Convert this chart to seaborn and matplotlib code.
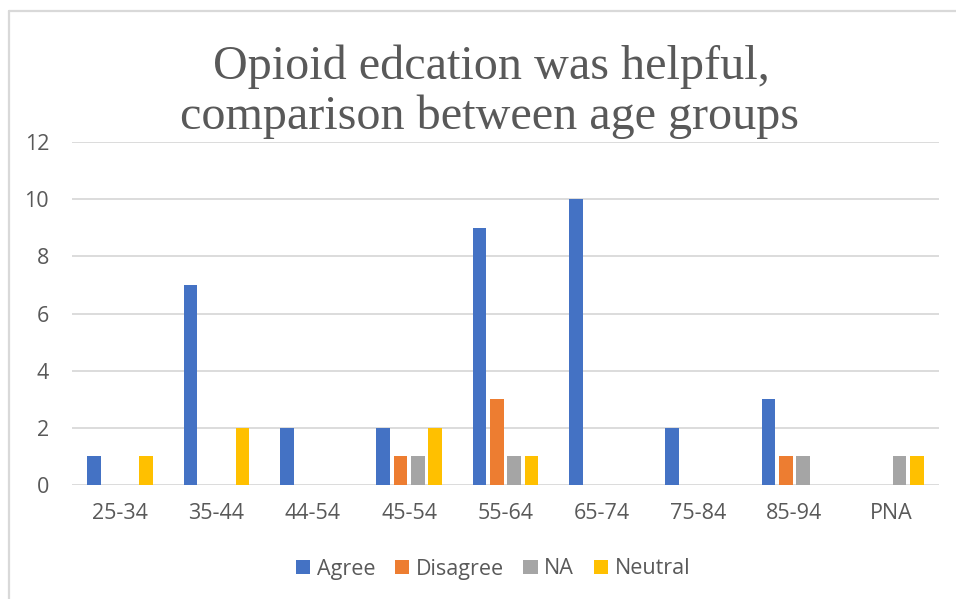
import matplotlib
matplotlib.use("Agg")
import matplotlib.pyplot as plt
from matplotlib.lines import Line2D
import seaborn as sns
import pandas as pd

age_groups = ["25-34", "35-44", "44-54", "45-54", "55-64", "65-74", "75-84", "85-94", "PNA"]
responses = ["Agree", "Disagree", "NA", "Neutral"]
agree = [1, 7, 2, 2, 9, 10, 2, 3, 0]
disagree = [0, 0, 0, 1, 3, 0, 0, 1, 0]
na = [0, 0, 0, 1, 1, 0, 0, 1, 1]
neutral = [1, 2, 0, 2, 1, 0, 0, 0, 1]
colors = ["#4472C4", "#ED7D31", "#A5A5A5", "#FFC000"]
title_lines = ["Opioid edcation was helpful,", "comparison between age groups"]
yticks = [0, 2, 4, 6, 8, 10, 12]

series = {"Agree": agree, "Disagree": disagree, "NA": na, "Neutral": neutral}
rows = []
for resp in responses:
    for g, v in zip(age_groups, series[resp]):
        rows.append({"Age": g, "Response": resp, "Count": v})
df = pd.DataFrame(rows)

sns.set_theme(style="white")
plt.rcParams["font.family"] = ["Open Sans", "DejaVu Sans"]
text_color = "#595959"
grid_color = "#D9D9D9"

fig = plt.figure(figsize=(9.56, 5.99), dpi=100)
ax = fig.add_axes([72 / 956, 1 - 485 / 599, (939 - 72) / 956, (485 - 142) / 599])

sns.barplot(data=df, x="Age", y="Count", hue="Response", order=age_groups,
            hue_order=responses, palette=colors, width=0.72, gap=0.2,
            linewidth=0, saturation=1, ax=ax, legend=True)

ax.set_xlim(-0.5, len(age_groups) - 0.5)
ax.set_ylim(0, 12)
ax.set_yticks(yticks)
ax.set_xlabel("")
ax.set_ylabel("")
for s in ax.spines.values():
    s.set_visible(False)
ax.yaxis.grid(True, color=grid_color, linewidth=1.3)
ax.set_axisbelow(True)
ax.tick_params(axis="y", length=0, pad=16.5, labelsize=15.5, labelcolor=text_color)
ax.tick_params(axis="x", length=0, pad=13, labelsize=15.5, labelcolor=text_color)

# legend
handles, labels = ax.get_legend_handles_labels()
ax.legend_.remove()
fig.legend(handles, labels, loc="center", bbox_to_anchor=(493 / 956, 1 - 569 / 599),
           ncol=4, frameon=False, fontsize=15.5, labelcolor=text_color,
           handlelength=0.68, handleheight=0.68, handletextpad=0.3,
           columnspacing=0.9, borderaxespad=0)

# title
fig.text(491 / 956, 1 - 79 / 599, title_lines[0], ha="center", va="baseline",
         fontsize=34.7, color=text_color, family=["Liberation Serif"])
fig.text(490 / 956, 1 - 129 / 599, title_lines[1], ha="center", va="baseline",
         fontsize=34.7, color=text_color, family=["Liberation Serif"])

# chart-area border (top and left edges visible)
fig.add_artist(Line2D([9 / 956, 1.0], [1 - 11 / 599, 1 - 11 / 599],
                      transform=fig.transFigure, color=grid_color, linewidth=1.6))
fig.add_artist(Line2D([9 / 956, 9 / 956], [0.0, 1 - 11 / 599],
                      transform=fig.transFigure, color=grid_color, linewidth=1.6))

fig.savefig("out.png", dpi=100)
